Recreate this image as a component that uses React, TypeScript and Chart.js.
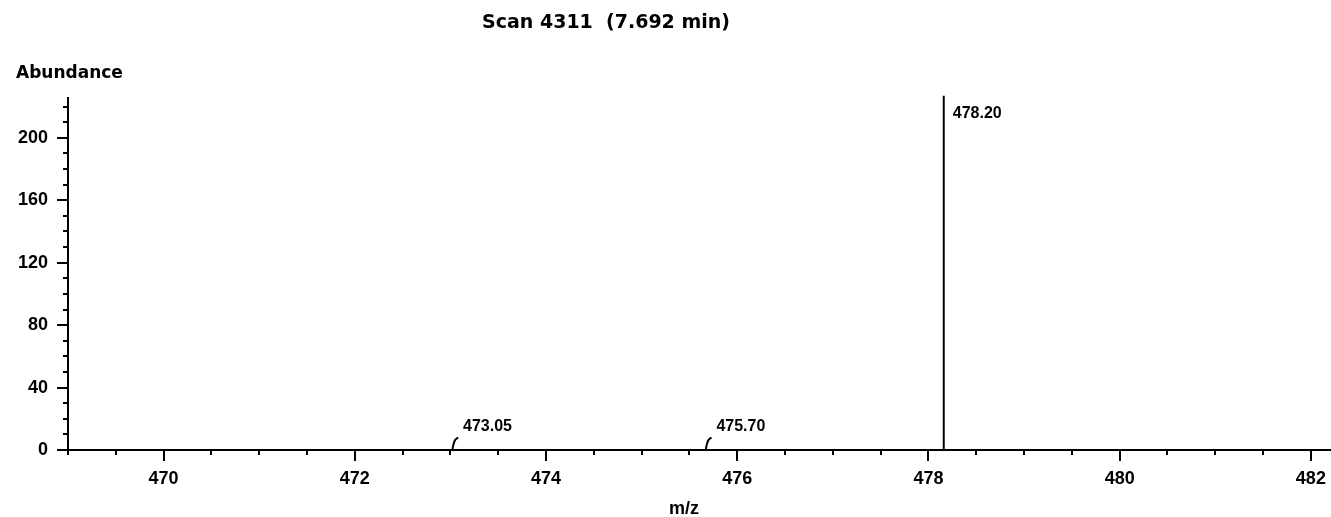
import React, { useEffect, useRef } from "react";
import { Chart, registerables } from "chart.js";

Chart.register(...registerables);

// ---- text ----
const titleText = "Scan 4311  (7.692 min)";
const yAxisTitle = "Abundance";
const xAxisTitle = "m/z";

// ---- axes ----
const xTicks = [470, 472, 474, 476, 478, 480, 482];
const yTicks = [0, 40, 80, 120, 160, 200];
const xMin = 469.0;
const xMax = 482.2;
const yMin = 0;
const yMax = 225.5;
const xMinorStep = 0.5;
const yMinorStep = 10;

// ---- peaks (labels and profiles) ----
const peakLabels = ["473.05", "475.70", "478.20"];
const peak1Mz = [473.02, 473.03, 473.05, 473.08];
const peak1Ab = [0, 3, 6.5, 8];
const peak2Mz = [475.67, 475.68, 475.7, 475.73];
const peak2Ab = [0, 3, 6.5, 8];
const peak3Mz = [478.16, 478.16];
const peak3Ab = [0, 227];

const profilesMz = [peak1Mz, peak2Mz, peak3Mz];
const profilesAb = [peak1Ab, peak2Ab, peak3Ab];

const tickFont = { family: "'Liberation Sans', Arial, sans-serif", size: 18, weight: "bold" as const };

const decorPlugin = {
  id: "decor",
  afterDraw(chart: any) {
    const ctx = chart.ctx;
    const area = chart.chartArea;
    const xs = chart.scales.x;
    const ys = chart.scales.y;
    ctx.save();
    ctx.strokeStyle = "#000";
    ctx.fillStyle = "#000";
    ctx.lineWidth = 2;
    // y ticks
    for (let v = yMin; v <= yMax + 1e-9; v += yMinorStep) {
      const py = Math.round(ys.getPixelForValue(v));
      const major = yTicks.includes(Math.round(v));
      const len = major ? 11 : 5;
      ctx.beginPath();
      ctx.moveTo(area.left - len, py);
      ctx.lineTo(area.left, py);
      ctx.stroke();
    }
    // x ticks
    const start = Math.ceil(xMin / xMinorStep) * xMinorStep;
    for (let v = start; v <= xMax + 1e-9; v += xMinorStep) {
      const px = Math.round(xs.getPixelForValue(v));
      const major = xTicks.some((t) => Math.abs(t - v) < 1e-6);
      const len = major ? 11 : 5;
      ctx.beginPath();
      ctx.moveTo(px, area.bottom);
      ctx.lineTo(px, area.bottom + len);
      ctx.stroke();
    }
    // peak labels
    ctx.font = "bold 16px 'Liberation Sans', Arial, sans-serif";
    ctx.textAlign = "left";
    ctx.textBaseline = "alphabetic";
    chart.data.datasets.forEach((ds: any, i: number) => {
      const pts = ds.data;
      const last = pts[pts.length - 1];
      const px = xs.getPixelForValue(last.x);
      const py = ys.getPixelForValue(last.y);
      let by = py - 7;
      let lx = px + 5;
      if (by - 12 < area.top) {
        by = py + 22;
        lx = px + 9;
      }
      ctx.fillText(peakLabels[i], lx, by);
    });
    // titles
    ctx.font = "bold 19px 'DejaVu Sans', sans-serif";
    ctx.textAlign = "center";
    ctx.fillText(titleText, 606, 28);
    ctx.font = "bold 17px 'DejaVu Sans', sans-serif";
    ctx.textAlign = "left";
    ctx.fillText(yAxisTitle, 16, 78);
    ctx.font = "bold 18px 'Liberation Sans', Arial, sans-serif";
    ctx.textAlign = "center";
    ctx.fillText(xAxisTitle, 684, 514);
    ctx.restore();
  },
};

export default function App() {
  const ref = useRef<HTMLCanvasElement | null>(null);
  useEffect(() => {
    if (!ref.current) return;
    const datasets = profilesMz.map((mz, i) => ({
      data: mz.map((x, j) => ({ x, y: profilesAb[i][j] })),
      borderColor: "#000",
      borderWidth: 2,
      pointRadius: 0,
      showLine: true,
      tension: i < 2 ? 0.4 : 0,
      clip: false as const,
    }));
    const chart = new Chart(ref.current, {
      type: "scatter",
      data: { datasets },
      options: {
        animation: false,
        responsive: true,
        maintainAspectRatio: false,
        layout: { padding: { top: 98, right: 1, bottom: 0, left: 0 } },
        plugins: { legend: { display: false }, title: { display: false }, tooltip: { enabled: false } },
        scales: {
          x: {
            type: "linear",
            min: xMin,
            max: xMax,
            afterFit: (s: any) => {
              s.height = 67;
              s.paddingLeft = 0;
              s.paddingRight = 0;
            },
            afterBuildTicks: (s: any) => {
              s.ticks = xTicks.map((v) => ({ value: v }));
            },
            grid: { display: false, drawTicks: false },
            border: { display: true, color: "#000", width: 2 },
            ticks: { color: "#000", font: tickFont, padding: 18, maxRotation: 0, autoSkip: false, callback: (v: any) => String(v) },
          },
          y: {
            type: "linear",
            min: yMin,
            max: yMax,
            afterFit: (s: any) => {
              s.width = 68;
              s.paddingTop = 0;
              s.paddingBottom = 0;
            },
            afterBuildTicks: (s: any) => {
              s.ticks = yTicks.map((v) => ({ value: v }));
            },
            grid: { display: false, drawTicks: false },
            border: { display: true, color: "#000", width: 2 },
            ticks: { color: "#000", font: tickFont, padding: 20, callback: (v: any) => String(v) },
          },
        },
      },
      plugins: [decorPlugin],
    });
    return () => chart.destroy();
  }, []);
  return (
    <div style={{ position: "fixed", left: 0, top: 0, width: 1331, height: 517, background: "#fff" }}>
      <canvas ref={ref} />
    </div>
  );
}
